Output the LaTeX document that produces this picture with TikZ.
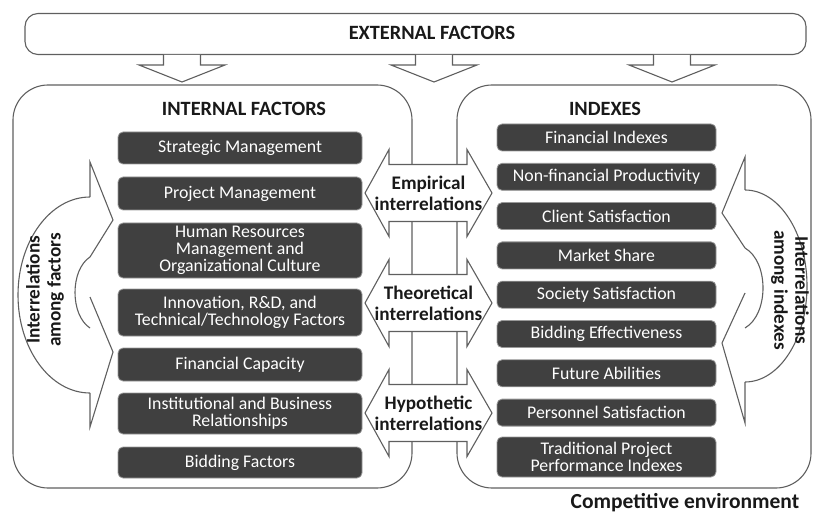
\documentclass[tikz,border=0pt]{standalone}
\usepackage{fontspec}
\setmainfont{Carlito}
\definecolor{boxfill}{RGB}{64,64,64}
\definecolor{linegray}{RGB}{95,95,95}
\definecolor{txtdark}{RGB}{25,25,25}
\begin{document}
\begin{tikzpicture}[x=1pt,y=-1pt,
  outl/.style={draw=linegray, line width=1.1pt, line join=miter},
  bigbox/.style={draw=linegray, line width=1.1pt, rounded corners=35pt, inner sep=0pt},
  dbox/.style={draw=black!40, line width=0.8pt, fill=boxfill, rounded corners=5pt, text=white, align=center, font=\fontsize{17.8}{17}\selectfont, inner sep=0pt},
  ltitle/.style={font=\bfseries\fontsize{20.3}{21}\selectfont, text=txtdark, inner sep=0pt},
  midtxt/.style={font=\bfseries\fontsize{19.2}{21.2}\selectfont, align=center, text=txtdark, inner sep=0pt},
  ]
\useasboundingbox (0,0) rectangle (813,521);

% external factors
\node[draw=linegray, line width=1.1pt, rounded corners=13pt, minimum width=781pt, minimum height=41pt, inner sep=0pt] (ext) at (415.5,34) {};
\node[ltitle] (extt) at (432,33) {EXTERNAL FACTORS};

% down arrows
\foreach \cx/\nm in {182/da1,434/da2,672/da3}{
  \coordinate (\nm) at (\cx,82);
  \draw[outl, fill=white] (\cx-18.5,55) -- (\cx-18.5,65) -- (\cx-43,65) -- (\nm) -- (\cx+43,65) -- (\cx+18.5,65) -- (\cx+18.5,55);
}

% big boxes
\node[bigbox, minimum width=399pt, minimum height=403pt] (internal) at (212.5,286.5) {};
\node[bigbox, minimum width=354pt, minimum height=403pt] (indexes) at (634,286.5) {};
\node[ltitle] (intt) at (244,109) {INTERNAL FACTORS};
\node[ltitle] (indt) at (605,109) {INDEXES};

% left boxes
\node[dbox, minimum width=244pt, minimum height=32pt] (l1) at (240,148) {Strategic Management};
\node[dbox, minimum width=244pt, minimum height=33pt] (l2) at (240,193.5) {Project Management};
\node[dbox, minimum width=244pt, minimum height=55pt] (l3) at (240,250.5) {Human Resources\\Management and\\Organizational Culture};
\node[dbox, minimum width=244pt, minimum height=47pt] (l4) at (240,312.5) {Innovation, R\&D, and\\Technical/Technology Factors};
\node[dbox, minimum width=244pt, minimum height=33pt] (l5) at (240,364.5) {Financial Capacity};
\node[dbox, minimum width=244pt, minimum height=41pt] (l6) at (240,413.5) {Institutional and Business\\Relationships};
\node[dbox, minimum width=244pt, minimum height=31pt] (l7) at (240,462.5) {Bidding Factors};

% right boxes
\foreach \i/\txt in {0/Financial Indexes,1/Non-financial Productivity,2/Client Satisfaction,3/Market Share,4/Society Satisfaction,5/Bidding Effectiveness,6/Future Abilities,7/Personnel Satisfaction}{
  \node[dbox, minimum width=219pt, minimum height=27pt] (r\i) at (606.5,{137.5+\i*39.3}) {\txt};
}
\node[dbox, minimum width=219pt, minimum height=40pt] (r8) at (606.5,457) {Traditional Project\\Performance Indexes};

% middle double arrows
\foreach \cy/\nm/\txt in {193/emp/{Empirical\\interrelations},303/theo/{Theoretical\\interrelations},413/hyp/{Hypothetic\\interrelations}}{
  \draw[outl, fill=white] (365,\cy) -- (389,\cy-43.5) -- (389,\cy-28.5) -- (467,\cy-28.5) -- (467,\cy-43.5) -- (492,\cy)
     -- (467,\cy+43.5) -- (467,\cy+28.5) -- (389,\cy+28.5) -- (389,\cy+43.5) -- cycle;
  \node[midtxt] (\nm) at (428.5,\cy) {\txt};
}

% left curved arrows
\draw[outl] (90,197) -- (90,162) -- (113,220) -- (90,257);
\draw[outl] (90,257) .. controls (70,270) and (70,315) .. (90,328);
\draw[outl] (90,297) -- (113,352) -- (90,427) -- (90,393);
\draw[outl] (90,393) .. controls (50.2,393) and (18,349) .. (18,295) .. controls (18,241) and (50.2,197) .. (90,197);
\node[midtxt, rotate=90] (amf) at (45,290) {Interrelations\\among factors};

% right curved arrows
\draw[outl] (745,190) -- (745,157) -- (722,213) -- (745,248);
\draw[outl] (745,248) .. controls (769,262) and (769,314) .. (745,328);
\draw[outl] (745,293) -- (722,343) -- (745,423) -- (745,382);
\draw[outl] (745,382) .. controls (779.2,382) and (807,339) .. (807,286) .. controls (807,233) and (779.2,190) .. (745,190);
\node[midtxt, rotate=-90] (ami) at (790,290) {Interrelations\\among indexes};

% competitive environment
\node[font=\bfseries\fontsize{21.5}{22}\selectfont, text=txtdark, anchor=base, inner sep=0pt] (comp) at (685,508) {Competitive environment};
\end{tikzpicture}
\end{document}
